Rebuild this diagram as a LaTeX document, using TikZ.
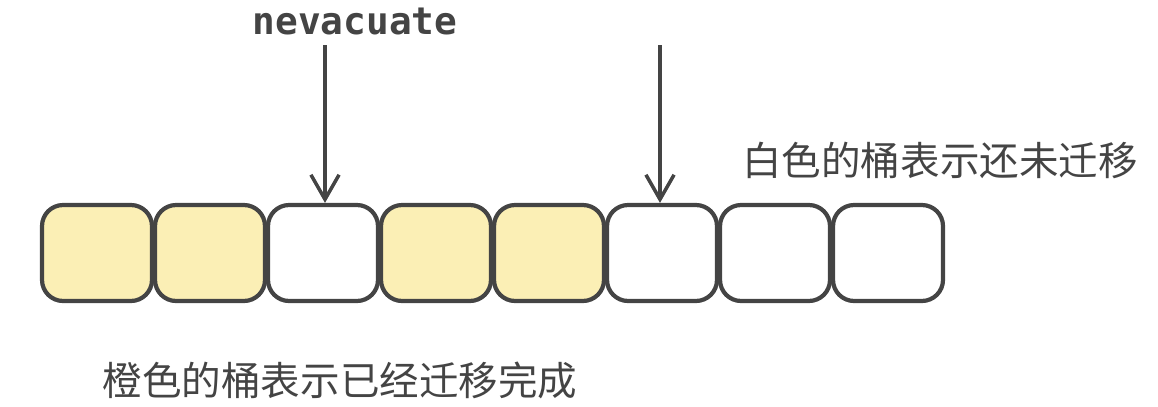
\documentclass[tikz,border=0pt]{standalone}
\usepackage{fontspec}
\setmonofont{DejaVu Sans Mono}
\newfontfamily\cjk{Noto Sans CJK SC}
\usetikzlibrary{arrows.meta}
\definecolor{ink}{HTML}{444444}
\definecolor{done}{HTML}{FBEFB5}

\begin{document}
\begin{tikzpicture}[x=0.02cm, y=-0.02cm,
    bucket/.style={draw=ink, line width=2.4pt, rounded corners=12pt,
        minimum width=2.2cm, minimum height=1.92cm, inner sep=0pt},
    moved/.style={bucket, fill=done},
    label/.style={text=ink, font=\cjk\fontsize{22.5}{26}\selectfont, inner sep=0pt},
    pointer/.style={draw=ink, line width=2pt, -{Straight Barb[length=14pt, width=16pt]}}
]
    \useasboundingbox (0,0) rectangle (1158,406);
    % buckets
    \foreach \i/\st in {1/moved, 2/moved, 3/bucket, 4/moved, 5/moved, 6/bucket, 7/bucket, 8/bucket}
        \node[\st] (b\i) at ({97+113*(\i-1)},253) {};
    \coordinate (p1) at (325,45);
    \coordinate (p2) at (660,45);
    \node[text=ink, font=\ttfamily\bfseries\fontsize{21.5}{24}\selectfont] (ptr) at (355,22) {nevacuate};
    \draw[pointer] (p1) -- (b3.north -| p1);
    \draw[pointer] (p2) -- (b6.north -| p2);
    \node[label] (white) at (940,160) {白色的桶表示还未迁移};
    \node[label] (orange) at (340,380) {橙色的桶表示已经迁移完成};
\end{tikzpicture}
\end{document}
